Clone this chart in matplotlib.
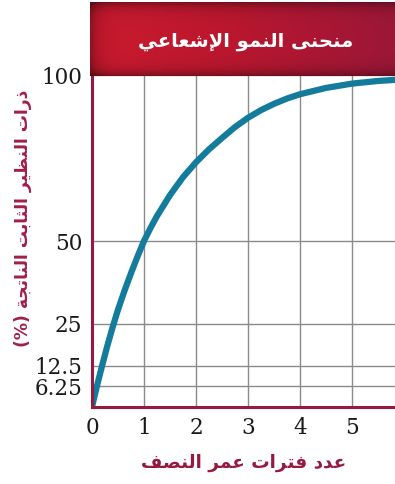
import numpy as np
import matplotlib
matplotlib.use("Agg")
from matplotlib import pyplot as plt
from matplotlib.colors import LinearSegmentedColormap

# ---- data ----
half_lives = [0, 0.05, 0.1, 0.2, 0.3, 0.4, 0.5, 0.625, 0.75, 0.875, 1, 1.125,
              1.25, 1.5, 1.75, 2, 2.25, 2.5, 2.75, 3, 3.25, 3.5, 3.75, 4,
              4.5, 5, 5.5, 5.9]
stable_pct = [0, 3.4, 6.6, 12.8, 18.7, 24.2, 29.3, 35, 40.3, 45.3, 50, 53.9,
              57.5, 63.8, 69.2, 73.7, 77.6, 81, 84.3, 87.1, 89.4, 91.3, 92.9, 94.2,
              96.1, 97.4, 98.2, 98.6]
x_ticks = [0, 1, 2, 3, 4, 5]
y_ticks = [6.25, 12.5, 25, 50, 100]
y_tick_labels = ["6.25", "12.5", "25", "50", "100"]

title = "منحنى النمو الإشعاعي"
y_label = "ذرات النظير الثابت الناتجة (%)"
x_label = "عدد فترات عمر النصف"

# ---- minimal Arabic shaping (matplotlib has no complex text layout) ----
# letter -> (isolated presentation form, joins to the following letter)
FORMS = {
    "ا": (0xFE8D, False), "إ": (0xFE87, False), "ب": (0xFE8F, True),
    "ة": (0xFE93, False), "ت": (0xFE95, True), "ث": (0xFE99, True),
    "ج": (0xFE9D, True), "ح": (0xFEA1, True), "د": (0xFEA9, False),
    "ذ": (0xFEAB, False), "ر": (0xFEAD, False), "ش": (0xFEB5, True),
    "ص": (0xFEB9, True), "ظ": (0xFEC5, True), "ع": (0xFEC9, True),
    "ف": (0xFED1, True), "ل": (0xFEDD, True), "م": (0xFEE1, True),
    "ن": (0xFEE5, True), "و": (0xFEED, False), "ى": (0xFEEF, False),
    "ي": (0xFEF1, True),
}
LAM_ALEF = {"ا": 0xFEFB, "إ": 0xFEF9, "أ": 0xFEF7, "آ": 0xFEF5}
MIRROR = {"(": ")", ")": "("}


def shape(text):
    tokens = []
    i = 0
    while i < len(text):
        ch = text[i]
        if ch == "ل" and i + 1 < len(text) and text[i + 1] in LAM_ALEF:
            tokens.append((LAM_ALEF[text[i + 1]], False))
            i += 2
            continue
        tokens.append(FORMS.get(ch, ch))
        i += 1
    out = []
    for k, tok in enumerate(tokens):
        if isinstance(tok, str):
            out.append(MIRROR.get(tok, tok))
            continue
        base, dual = tok
        prev = tokens[k - 1] if k > 0 else None
        nxt = tokens[k + 1] if k + 1 < len(tokens) else None
        join_prev = isinstance(prev, tuple) and prev[1]
        join_next = dual and isinstance(nxt, tuple)
        if join_prev and join_next:
            off = 3
        elif join_prev:
            off = 1
        elif join_next:
            off = 2
        else:
            off = 0
        out.append(chr(base + off))
    return "".join(reversed(out))


# ---- figure ----
W, H = 395, 484
fig = plt.figure(figsize=(W / 100, H / 100), dpi=100)

maroon = "#96193f"
teal = "#137b9b"

ax = fig.add_axes([92 / W, 1 - 407 / H, (W - 92) / W, (407 - 75) / H])
ax.plot(half_lives, stable_pct, color=teal, linewidth=4.5,
        solid_capstyle="butt", solid_joinstyle="round", zorder=3)
ax.set_xlim(0, 5.83)
ax.set_ylim(0, 100)

ax.set_xticks(x_ticks)
ax.set_xticklabels([str(t) for t in x_ticks])
ax.set_yticks(y_ticks)
ax.set_yticklabels(y_tick_labels)
ax.tick_params(length=0, pad=7, labelsize=15.5, labelcolor="#1a1a1a")
for lab in ax.get_xticklabels() + ax.get_yticklabels():
    lab.set_fontfamily("DejaVu Serif")

ax.grid(True, color="#8a8a8a", linewidth=1.0, zorder=1)
for side in ["top", "right"]:
    ax.spines[side].set_visible(False)
for side in ["left", "bottom"]:
    ax.spines[side].set_color(maroon)
    ax.spines[side].set_linewidth(2.2)
    ax.spines[side].set_zorder(4)

# ---- title banner with gradient ----
bax = fig.add_axes([90 / W, 1 - 76 / H, (W - 90) / W, 74 / H])
cmap = LinearSegmentedColormap.from_list("banner", ["#cc1a2e", "#b8172f", "#9c1738"])
gx = np.linspace(0, 1, 300)[None, :]
gy = np.linspace(0, 1, 80)[:, None]
shade = 1 - 0.35 * (np.exp(-gy / 0.08) + np.exp(-(1 - gy) / 0.08)) - 0.3 * np.exp(-gx / 0.03)
rgb = cmap(np.repeat(gx, 80, axis=0))[:, :, :3] * shade[:, :, None]
bax.imshow(rgb, aspect="auto", extent=(0, 1, 0, 1))
bax.set_axis_off()
bax.text(0.51, 0.46, shape(title), color="white", fontsize=14, fontweight="bold",
         family="DejaVu Sans", ha="center", va="center")

# ---- axis labels ----
fig.text(23 / W, 1 - 218 / H, shape(y_label), rotation=90, color="#a01f48",
         fontsize=12.3, fontweight="bold", family="DejaVu Sans",
         ha="center", va="center")
fig.text(244 / W, 1 - 463 / H, shape(x_label), color=maroon,
         fontsize=13.2, fontweight="bold", family="DejaVu Sans",
         ha="center", va="center")

fig.savefig("out.png", dpi=100)
